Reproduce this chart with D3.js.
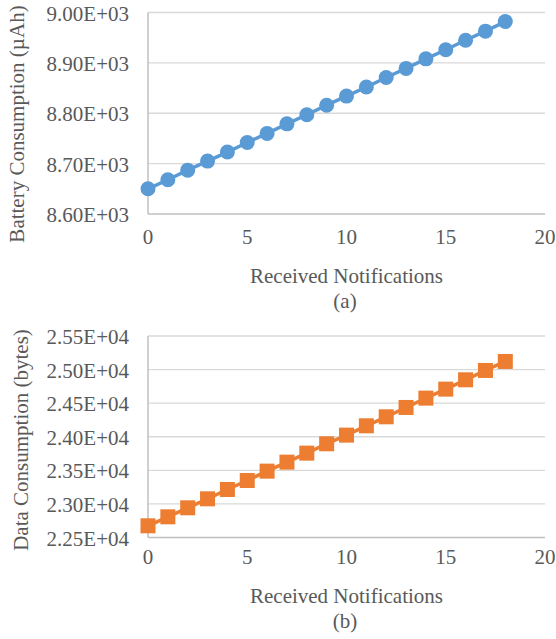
<!DOCTYPE html>
<html>
<head>
    <meta charset="UTF-8">
    <script src="https://d3js.org/d3.v7.min.js"></script>
</head>
<body style="margin:0">
<svg width="556" height="639"></svg>
<script>
    // received notifications 0..18
    const notifications = [0, 1, 2, 3, 4, 5, 6, 7, 8, 9, 10, 11, 12, 13, 14, 15, 16, 17, 18];
    const batteryValues = [8650, 8668, 8687, 8705, 8723, 8742, 8760, 8779, 8797, 8816, 8834,
        8852, 8871, 8889, 8908, 8926, 8945, 8963, 8982];
    const dataValues = [22674, 22808, 22942, 23076, 23215, 23349, 23488, 23622, 23756, 23895,
        24024, 24163, 24297, 24436, 24575, 24709, 24848, 24987, 25121];
    const xTicks = [0, 5, 10, 15, 20];
    const batteryTicks = [8600, 8700, 8800, 8900, 9000];
    const dataTicks = [22500, 23000, 23500, 24000, 24500, 25000, 25500];

    const svg = d3.select("svg");
    const left = 148, right = 545;
    const fontSize = 21;

    const x = d3.scaleLinear().domain([0, 20]).range([left, right]);

    function sci(v) {
        const exp = Math.floor(Math.log10(v));
        const mant = (v / Math.pow(10, exp)).toFixed(2);
        return mant + "E+" + String(exp).padStart(2, "0");
    }

    function label(txt) {
        return svg.append("text")
            .attr("font-size", fontSize)
            .attr("font-family", "'Liberation Serif'")
            .attr("fill", "#595959")
            .text(txt);
    }

    function drawPanel(opts) {
        const y = d3.scaleLinear().domain(opts.domain).range([opts.bottom, opts.top]);

        // gridlines
        opts.ticks.slice(1).forEach(t => {
            svg.append("line")
                .attr("x1", left).attr("x2", right)
                .attr("y1", y(t)).attr("y2", y(t))
                .attr("stroke", "#d9d9d9").attr("stroke-width", 1.3);
        });

        svg.append("line")
            .attr("x1", left).attr("x2", right)
            .attr("y1", opts.bottom).attr("y2", opts.bottom)
            .attr("stroke", "#bfbfbf").attr("stroke-width", 1.5);
        svg.append("line")
            .attr("x1", left).attr("x2", left)
            .attr("y1", opts.top).attr("y2", opts.bottom)
            .attr("stroke", "#bfbfbf").attr("stroke-width", 1.5);

        // y tick labels
        opts.ticks.forEach(t => {
            label(sci(t))
                .attr("x", 129)
                .attr("y", y(t) + 8)
                .attr("text-anchor", "end");
        });

        // x tick labels
        xTicks.forEach(t => {
            label(t)
                .attr("x", x(t))
                .attr("y", opts.bottom + opts.shift + 29.5)
                .attr("text-anchor", "middle");
        });

        label("Received Notifications")
            .attr("x", 346.5)
            .attr("y", opts.bottom + opts.shift + 69)
            .attr("text-anchor", "middle");

        label(opts.caption)
            .attr("x", 345)
            .attr("y", opts.bottom + opts.shift + 93.5)
            .attr("text-anchor", "middle");

        label(opts.title)
            .attr("transform", `translate(${opts.titleX},${opts.titleY}) rotate(-90)`)
            .attr("text-anchor", "middle");

        const line = d3.line()
            .x((d, i) => x(notifications[i]))
            .y(d => y(d));

        svg.append("path")
            .datum(opts.values)
            .attr("fill", "none")
            .attr("stroke", opts.color)
            .attr("stroke-width", 3.5)
            .attr("d", line);

        if (opts.marker === "circle") {
            svg.append("g").selectAll("circle").data(opts.values).join("circle")
                .attr("cx", (d, i) => x(notifications[i]))
                .attr("cy", d => y(d))
                .attr("r", 7.5)
                .attr("fill", opts.color);
        } else {
            const s = 15;
            svg.append("g").selectAll("rect").data(opts.values).join("rect")
                .attr("x", (d, i) => x(notifications[i]) - s / 2)
                .attr("y", d => y(d) - s / 2)
                .attr("width", s)
                .attr("height", s)
                .attr("fill", opts.color);
        }
    }

    drawPanel({
        values: batteryValues,
        ticks: batteryTicks,
        domain: [8600, 9000],
        top: 12.5,
        bottom: 214,
        shift: 0,
        color: "#5b9bd5",
        marker: "circle",
        title: "Battery Consumption (\u00b5Ah)",
        titleX: 24,
        titleY: 124,
        caption: "(a)"
    });

    drawPanel({
        values: dataValues,
        ticks: dataTicks,
        domain: [22500, 25500],
        top: 336,
        bottom: 537.5,
        shift: -3.3,
        color: "#ed7d31",
        marker: "square",
        title: "Data Consumption (bytes)",
        titleX: 28,
        titleY: 440,
        caption: "(b)"
    });
</script>
</body>
</html>
